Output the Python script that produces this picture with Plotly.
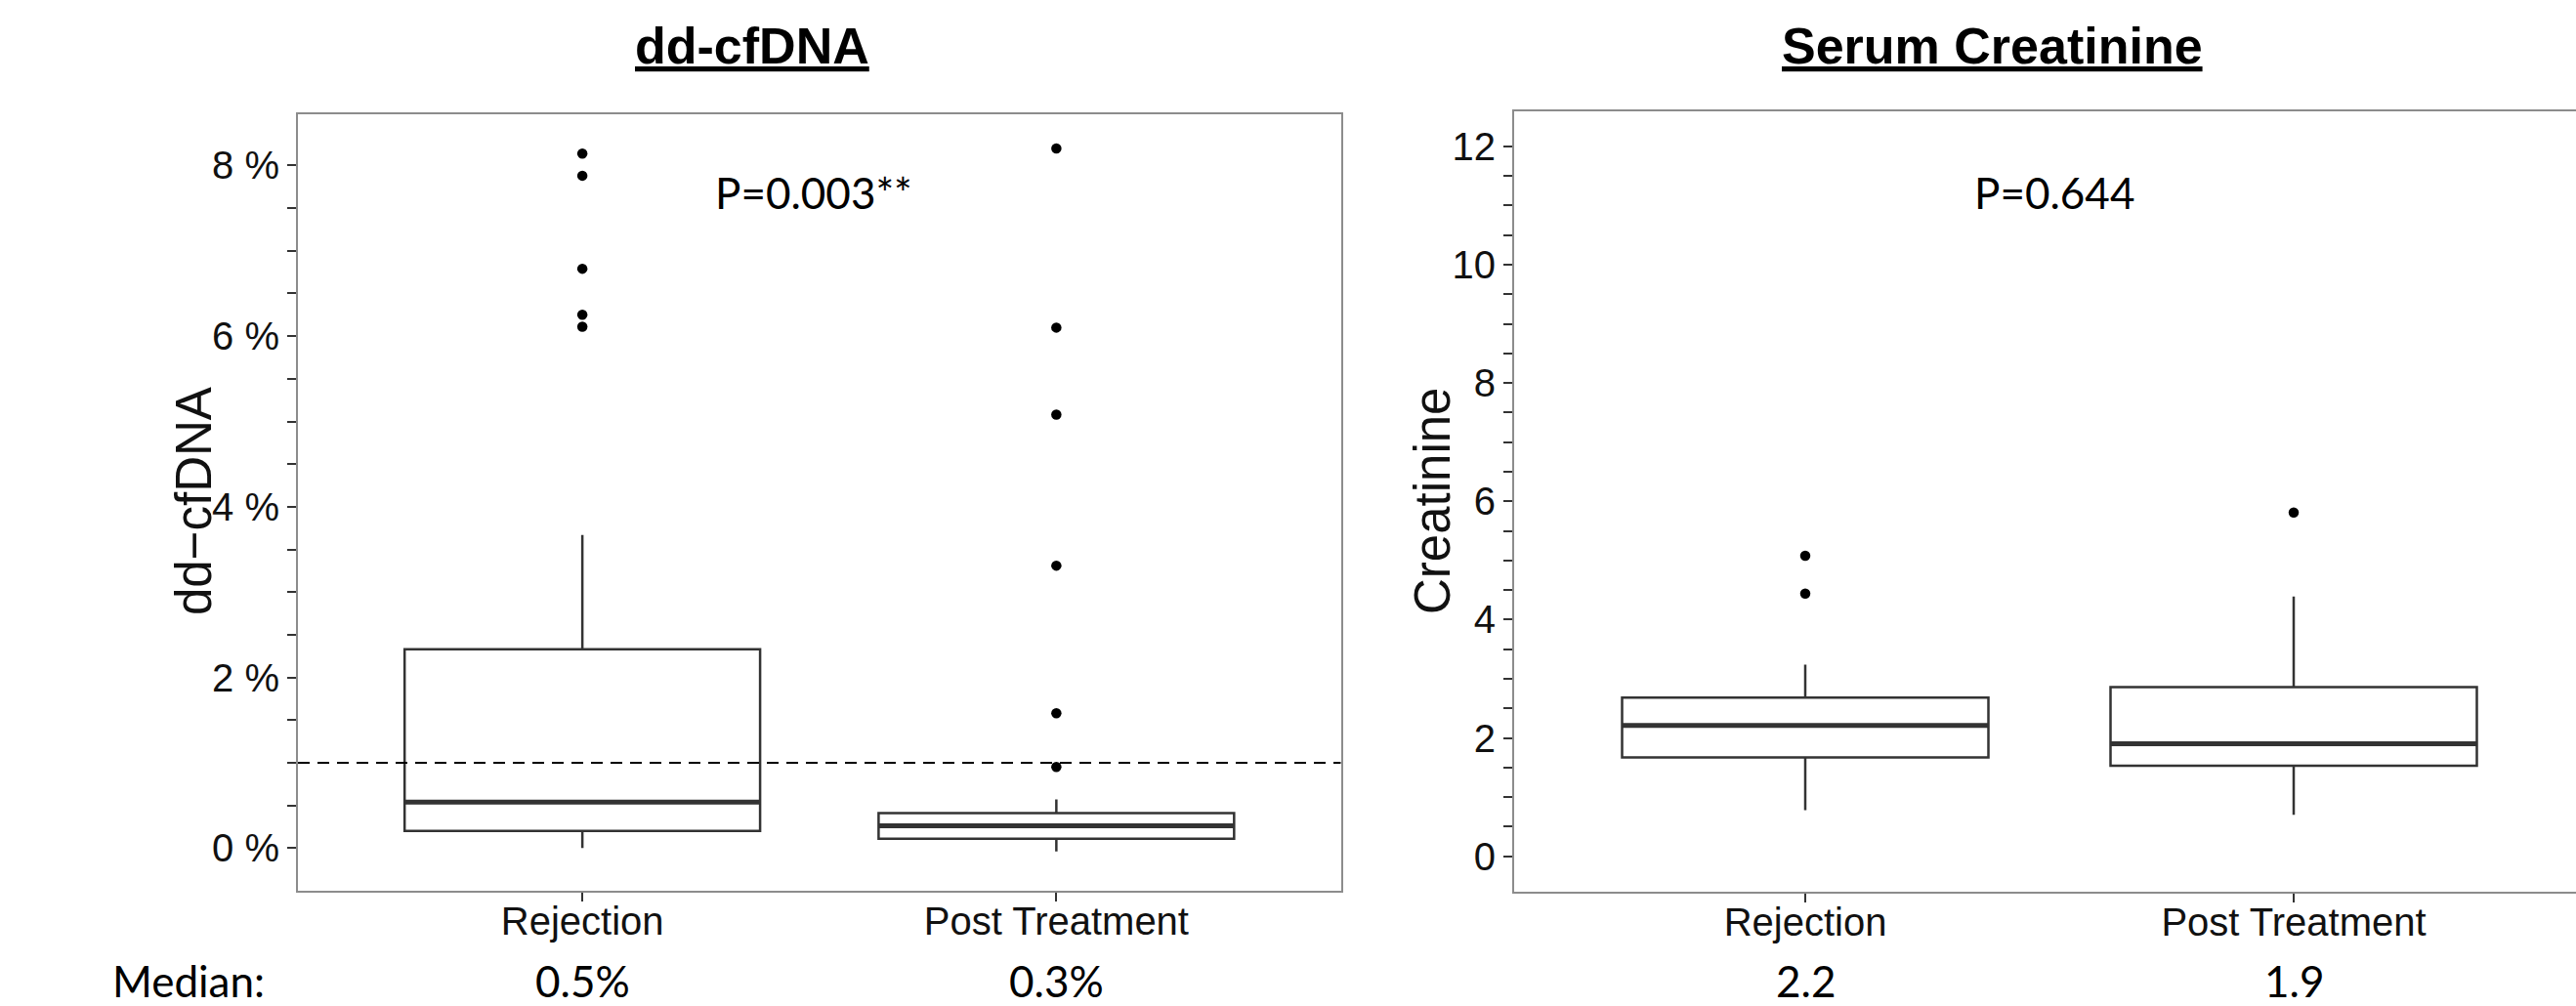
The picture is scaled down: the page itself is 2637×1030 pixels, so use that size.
import plotly.graph_objects as go

W, H = 2637, 1030

# ---------------- data ----------------
categories = ["Rejection", "Post Treatment"]
positions = [1, 2]

# dd-cfDNA (%)
cf_q1 = [0.20, 0.11]
cf_median = [0.54, 0.26]
cf_q3 = [2.33, 0.41]
cf_lower = [0.0, -0.04]
cf_upper = [3.67, 0.57]
cf_outliers_rej = [8.14, 7.88, 6.79, 6.25, 6.11]
cf_outliers_post = [8.20, 6.10, 5.08, 3.31, 1.58, 0.95]
cf_threshold = 1.0
cf_median_labels = ["0.5%", "0.3%"]
cf_pvalue = "P=0.003**"
cf_tick_values = [0.5 * i for i in range(17)]          # ticks every 0.5
cf_tick_labels = [f"{int(v)} %" if v % 2 == 0 else "" for v in cf_tick_values]

# Serum creatinine
cr_q1 = [1.67, 1.53]
cr_median = [2.21, 1.90]
cr_q3 = [2.68, 2.86]
cr_lower = [0.78, 0.70]
cr_upper = [3.24, 4.39]
cr_outliers_rej = [5.08, 4.44]
cr_outliers_post = [5.81]
cr_median_labels = ["2.2", "1.9"]
cr_pvalue = "P=0.644"
cr_tick_values = [0.5 * i for i in range(25)]
cr_tick_labels = [f"{int(v)}" if v % 2 == 0 else "" for v in cr_tick_values]

# ---------------- style ----------------
BOXC = "#333333"
FRAME = "#8c8c8c"
TICKC = "#333333"
TXT = "#111111"
ARIAL = "Liberation Sans, Arial, sans-serif"
CALIBRI = "Lato, Carlito, Calibri, sans-serif"
BOX_W = 0.75


def px(x):
    return x / W


def py(y):
    return 1 - y / H


fig = go.Figure()


def add_panel(xa, ya, q1, med, q3, lo, hi, outs_rej, outs_post):
    fig.add_trace(go.Box(
        x=positions, q1=q1, median=med, q3=q3, lowerfence=lo, upperfence=hi,
        width=BOX_W, boxpoints=False, whiskerwidth=0,
        line=dict(color=BOXC, width=2.5), fillcolor="white",
        xaxis=xa, yaxis=ya, hoverinfo="skip", showlegend=False,
    ))
    for p, m in zip(positions, med):
        fig.add_trace(go.Scatter(
            x=[p - BOX_W / 2, p + BOX_W / 2], y=[m, m], mode="lines",
            line=dict(color=BOXC, width=5), xaxis=xa, yaxis=ya,
            hoverinfo="skip", showlegend=False,
        ))
    ox = [positions[0]] * len(outs_rej) + [positions[1]] * len(outs_post)
    oy = list(outs_rej) + list(outs_post)
    fig.add_trace(go.Scatter(
        x=ox, y=oy, mode="markers",
        marker=dict(color="black", size=10.5),
        xaxis=xa, yaxis=ya, hoverinfo="skip", showlegend=False,
    ))


add_panel("x", "y", cf_q1, cf_median, cf_q3, cf_lower, cf_upper,
          cf_outliers_rej, cf_outliers_post)
add_panel("x2", "y2", cr_q1, cr_median, cr_q3, cr_lower, cr_upper,
          cr_outliers_rej, cr_outliers_post)

# threshold line
fig.add_shape(type="line", xref="x domain", yref="y", x0=0, x1=1,
              y0=cf_threshold, y1=cf_threshold,
              line=dict(color="black", width=2, dash="12px,8px"))

tickfont = dict(family=ARIAL, size=40, color=TXT)

common_x = dict(
    tickmode="array", tickvals=positions, ticktext=categories,
    ticks="outside", ticklen=9, tickwidth=2, tickcolor=TICKC,
    ticklabelstandoff=-14,
    showline=True, linecolor=FRAME, linewidth=2,
    showgrid=False, zeroline=False, tickfont=tickfont, fixedrange=True,
)
common_y = dict(
    tickmode="array",
    ticks="outside", ticklen=9, tickwidth=2, tickcolor=TICKC,
    showline=True, linecolor=FRAME, linewidth=2,
    showgrid=False, zeroline=False, tickfont=tickfont, fixedrange=True,
)

fig.update_layout(
    width=W, height=H, autosize=False,
    margin=dict(l=0, r=0, t=0, b=0),
    paper_bgcolor="white", plot_bgcolor="white",
    showlegend=False,
    xaxis=dict(domain=[px(305), px(1372.5)], range=[0.4, 2.6], mirror=True,
               anchor="y", **common_x),
    yaxis=dict(domain=[py(912), py(117)], range=[-0.5, 8.6], mirror=True,
               anchor="x", tickvals=cf_tick_values, ticktext=cf_tick_labels,
               **common_y),
    xaxis2=dict(domain=[px(1550), 1.0], range=[0.404, 2.578], mirror=True,
                anchor="y2", **common_x),
    yaxis2=dict(domain=[py(913), py(113.5)], range=[-0.6, 12.6], mirror=False,
                anchor="x2", tickvals=cr_tick_values, ticktext=cr_tick_labels,
                **common_y),
)

ann = []
# panel titles
for text, xc in (("dd-cfDNA", 770), ("Serum Creatinine", 2039)):
    ann.append(dict(text=text, x=px(xc), y=py(47), xref="paper", yref="paper",
                    showarrow=False, xanchor="center", yanchor="middle",
                    font=dict(family=ARIAL, size=52, color="black", weight="bold",
                              lineposition="under")))
# y-axis titles
ann.append(dict(text="dd\u2212cfDNA", x=px(198), y=py(513), xref="paper", yref="paper",
                showarrow=False, textangle=-90, xanchor="center", yanchor="middle",
                font=dict(family=ARIAL, size=51, color=TXT)))
ann.append(dict(text="Creatinine", x=px(1466), y=py(513), xref="paper", yref="paper",
                showarrow=False, textangle=-90, xanchor="center", yanchor="middle",
                font=dict(family=ARIAL, size=51, color=TXT)))
# p-values
ann.append(dict(text=cf_pvalue, x=px(833), y=py(197), xref="paper", yref="paper",
                showarrow=False, xanchor="center", yanchor="middle",
                font=dict(family=CALIBRI, size=44, color="black")))
ann.append(dict(text=cr_pvalue, x=px(2103), y=py(197), xref="paper", yref="paper",
                showarrow=False, xanchor="center", yanchor="middle",
                font=dict(family=CALIBRI, size=44, color="black")))
# median row
ann.append(dict(text="Median:", x=px(193), y=py(1004), xref="paper", yref="paper",
                showarrow=False, xanchor="center", yanchor="middle",
                font=dict(family=CALIBRI, size=44, color="black")))
for p, lab in zip(positions, cf_median_labels):
    ann.append(dict(text=lab, x=p, y=py(1004), xref="x", yref="paper",
                    showarrow=False, xanchor="center", yanchor="middle",
                    font=dict(family=CALIBRI, size=44, color="black")))
for p, lab in zip(positions, cr_median_labels):
    ann.append(dict(text=lab, x=p, y=py(1004), xref="x2", yref="paper",
                    showarrow=False, xanchor="center", yanchor="middle",
                    font=dict(family=CALIBRI, size=44, color="black")))

fig.update_layout(annotations=ann)

fig.write_html("out.html")
